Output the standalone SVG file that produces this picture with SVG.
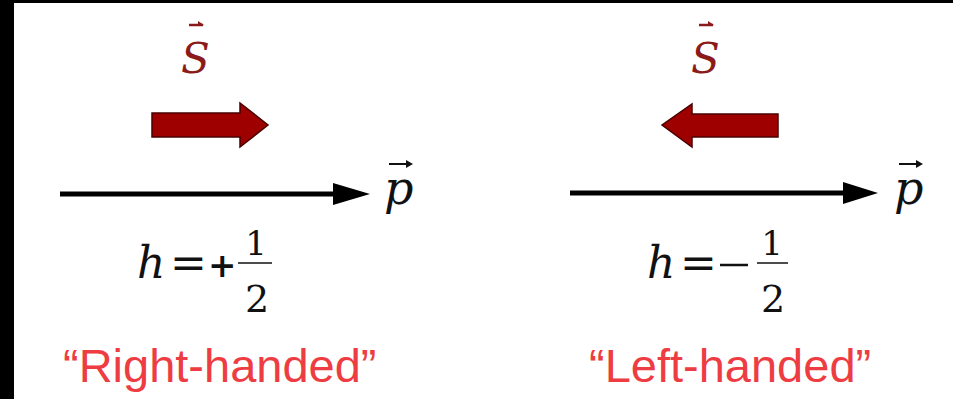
<svg xmlns="http://www.w3.org/2000/svg" width="953" height="399" viewBox="0 0 953 399">
<style>
.math{font-family:"DejaVu Serif","Liberation Serif",serif;font-style:italic;fill:#111}
.num{font-family:"DejaVu Serif","Liberation Serif",serif;fill:#111}
.s{font-family:"DejaVu Serif","Liberation Serif",serif;font-style:italic;fill:#8b1a1a;font-size:42px}
.lbl{font-family:"Liberation Sans",Arial,sans-serif;fill:#ee3d42;font-size:47px}
.fat{fill:#9e0000;stroke:#4a0000;stroke-width:1.5}
.axis{stroke:#000;stroke-width:5}
.vec{stroke:#111;stroke-width:2}
.svec{stroke:#8b1a1a;stroke-width:2.5}
</style>
<rect x="0" y="0" width="953" height="399" fill="#fff"/>
<rect x="0" y="0" width="953" height="3" fill="#000"/>
<rect x="0" y="0" width="14" height="399" fill="#000"/>

<g id="right-spin">
<line class="svec" x1="189" y1="25" x2="203" y2="25"/>
<path d="M198,21 L204,25 L198,26 Z" fill="#8b1a1a"/>
<text class="s" x="181" y="73">S</text>
<polygon class="fat" points="152,113 240,113 240,103 268,125 240,147 240,137 152,137"/>
</g>

<g id="left-spin">
<line class="svec" x1="699" y1="25" x2="713" y2="25"/>
<path d="M708,21 L714,25 L708,26 Z" fill="#8b1a1a"/>
<text class="s" x="691" y="73">S</text>
<polygon class="fat" points="778,114 692,114 692,104 662,125 692,147 692,137 778,137"/>
</g>

<g id="connectors">
<line class="axis" x1="60" y1="194" x2="336" y2="194"/>
<polygon points="333,183 370,194 333,205" fill="#000"/>
<line class="axis" x1="570" y1="193" x2="846" y2="193"/>
<polygon points="843,182 878,193 843,204" fill="#000"/>
</g>

<g id="p-right">
<line class="vec" x1="389" y1="164" x2="410" y2="164"/>
<polygon points="406,160 413,164 406,168" fill="#111"/>
<text class="math" x="384" y="204" font-size="46">p</text>
</g>
<g id="p-left">
<line class="vec" x1="899" y1="164" x2="920" y2="164"/>
<polygon points="916,160 923,164 916,168" fill="#111"/>
<text class="math" x="894" y="204" font-size="46">p</text>
</g>

<g id="helicity-plus">
<text class="math" x="137" y="278" font-size="44">h</text>
<text class="num" x="170" y="278" font-size="44">=</text>
<text class="num" x="208" y="277" font-size="34" font-weight="bold">+</text>
<line x1="238" y1="263" x2="272" y2="263" stroke="#111" stroke-width="1.5"/>
<text class="num" x="256" y="255" font-size="34" text-anchor="middle">1</text>
<text class="num" x="257" y="312" font-size="38" text-anchor="middle">2</text>
</g>

<g id="helicity-minus">
<text class="math" x="647" y="278" font-size="44">h</text>
<text class="num" x="680" y="278" font-size="44">=</text>
<line x1="720" y1="265" x2="748" y2="265" stroke="#111" stroke-width="2.5"/>
<line x1="757" y1="263" x2="788" y2="263" stroke="#111" stroke-width="1.5"/>
<text class="num" x="772" y="255" font-size="34" text-anchor="middle">1</text>
<text class="num" x="773" y="312" font-size="38" text-anchor="middle">2</text>
</g>

<g id="label-right">
<text class="lbl" x="63" y="382">“Right-handed”</text>
</g>
<g id="label-left">
<text class="lbl" x="589" y="382">“Left-handed”</text>
</g>
</svg>
